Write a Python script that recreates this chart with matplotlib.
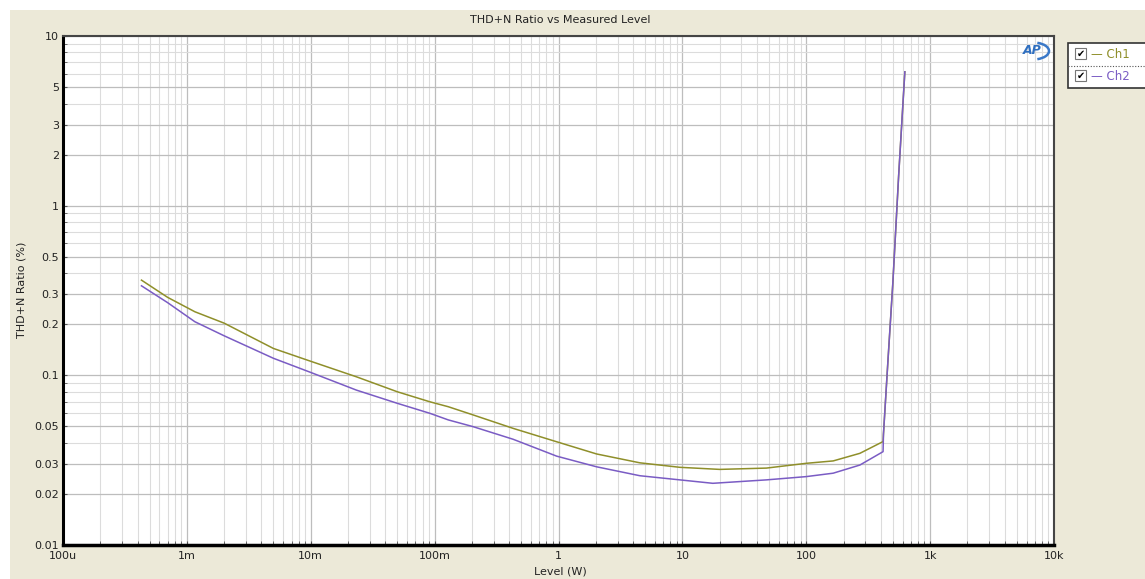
import matplotlib.pyplot as plt
from matplotlib.patches import Rectangle, Arc
from matplotlib.lines import Line2D
from matplotlib.ticker import FixedLocator, NullFormatter, LogLocator

# measured data (level in W, THD+N in %)
ch1_level = [0.00043, 0.0007, 0.00116, 0.002, 0.005, 0.01, 0.0234, 0.05, 0.0917,
             0.129, 0.205, 0.43, 0.966, 2.03, 4.54, 9.55, 20, 47.7, 100, 165, 271,
             417, 420, 456, 500, 557, 625]
ch1_thd = [0.364, 0.288, 0.237, 0.203, 0.144, 0.121, 0.098, 0.080, 0.0698,
           0.0653, 0.0584, 0.0487, 0.0406, 0.0344, 0.0305, 0.0287, 0.0279, 0.0284,
           0.0303, 0.0313, 0.0347, 0.0407, 0.045, 0.12, 0.35, 1.5, 6.15]

ch2_level = [0.00043, 0.0007, 0.00116, 0.002, 0.005, 0.01, 0.0234, 0.05, 0.0917,
             0.129, 0.205, 0.43, 0.966, 2.03, 4.54, 9.55, 17.6, 47.7, 100, 165, 271,
             417, 420, 456, 500, 557, 625]
ch2_thd = [0.337, 0.268, 0.207, 0.171, 0.126, 0.104, 0.0818, 0.0684, 0.0597,
           0.0546, 0.0498, 0.042, 0.0334, 0.0289, 0.0256, 0.0242, 0.0231, 0.0242,
           0.0253, 0.0265, 0.0296, 0.0355, 0.045, 0.12, 0.35, 1.5, 6.15]

x_ticks = [1e-4, 1e-3, 1e-2, 1e-1, 1, 10, 100, 1e3, 1e4]
x_labels = ['100u', '1m', '10m', '100m', '1', '10', '100', '1k', '10k']
y_ticks = [0.01, 0.02, 0.03, 0.05, 0.1, 0.2, 0.3, 0.5, 1, 2, 3, 5, 10]
y_labels = ['0.01', '0.02', '0.03', '0.05', '0.1', '0.2', '0.3', '0.5', '1', '2', '3', '5', '10']

ch1_colour = '#8f8f2a'
ch2_colour = '#7a5cc4'
beige = '#ece9d8'

plt.rcParams['font.family'] = ['DejaVu Sans']

fig = plt.figure(figsize=(11.45, 5.79), dpi=100, facecolor='white')
W, H = 1145, 579

# beige panel behind everything (thin white strip at top and left)
fig.patches.append(Rectangle((10 / W, 0), 1, (H - 10) / H, transform=fig.transFigure,
                             facecolor=beige, edgecolor='none', zorder=-10))

ax = fig.add_axes([63 / W, (H - 545) / H, (1054 - 63) / W, (545 - 36) / H])
ax.set_facecolor('white')
ax.set_xscale('log')
ax.set_yscale('log')
ax.set_xlim(1e-4, 1e4)
ax.set_ylim(0.01, 10)

ax.plot(ch1_level, ch1_thd, color=ch1_colour, lw=1.1, zorder=3)
ax.plot(ch2_level, ch2_thd, color=ch2_colour, lw=1.1, zorder=4)

ax.xaxis.set_major_locator(FixedLocator(x_ticks))
ax.set_xticklabels(x_labels)
ax.xaxis.set_minor_locator(LogLocator(base=10, subs=range(2, 10), numticks=20))
ax.xaxis.set_minor_formatter(NullFormatter())
ax.yaxis.set_major_locator(FixedLocator(y_ticks))
ax.set_yticklabels(y_labels)
ax.yaxis.set_minor_locator(LogLocator(base=10, subs=range(2, 10), numticks=20))
ax.yaxis.set_minor_formatter(NullFormatter())

ax.grid(which='major', color='#bdbdbd', lw=0.9)
ax.grid(which='minor', color='#dcdcdc', lw=0.8)
ax.set_axisbelow(True)

ax.tick_params(which='both', direction='in', length=3, color='#555555',
               labelsize=8, labelcolor='#222222')
ax.tick_params(axis='x', pad=4)
ax.tick_params(axis='y', pad=3)

ax.spines['left'].set_linewidth(2.2)
ax.spines['left'].set_color('black')
ax.spines['bottom'].set_linewidth(2.5)
ax.spines['bottom'].set_color('black')
ax.spines['top'].set_linewidth(1.5)
ax.spines['top'].set_color('#454545')
ax.spines['right'].set_linewidth(1.5)
ax.spines['right'].set_color('#454545')

fig.text(560 / W, 1 - 20 / H, 'THD+N Ratio vs Measured Level', ha='center', va='center',
         fontsize=8, color='#222222')
fig.text(560 / W, 1 - 572 / H, 'Level (W)', ha='center', va='center',
         fontsize=8, color='#222222')
fig.text(22 / W, 1 - 290 / H, 'THD+N Ratio (%)', ha='center', va='center',
         rotation=90, fontsize=8, color='#222222')

# AP logo
fig.patches.append(Arc((1033 / W, 1 - 51 / H), 32 / W, 17 / H, theta1=-75, theta2=75,
                       transform=fig.transFigure, edgecolor='#3a78c8', lw=1.8))
fig.text(1032 / W, 1 - 51 / H, 'AP', ha='center', va='center',
         fontsize=9, fontweight='bold', fontstyle='italic', color='#2f6fc0')

# legend box with check boxes
fig.patches.append(Rectangle((1068 / W, 1 - 88 / H), 90 / W, 45 / H, transform=fig.transFigure,
                             facecolor='white', edgecolor='#333333', lw=1.2))
fig.lines.append(Line2D([1068 / W, 1], [1 - 65.5 / H, 1 - 65.5 / H], transform=fig.transFigure,
                        color='#555555', lw=0.8, ls=(0, (1, 1.5))))
for row_y, name, colour in [(54, 'Ch1', ch1_colour), (76, 'Ch2', ch2_colour)]:
    fig.patches.append(Rectangle((1075 / W, 1 - (row_y + 5) / H), 11 / W, 11 / H,
                                 transform=fig.transFigure, facecolor='white',
                                 edgecolor='#777777', lw=0.8))
    fig.text(1080.5 / W, 1 - row_y / H, '\u2714', ha='center', va='center',
             fontsize=7, color='black')
    fig.text(1091 / W, 1 - row_y / H, '\u2014 ' + name, ha='left', va='center',
             fontsize=8.5, color=colour)

fig.savefig('out.png', dpi=100, facecolor=fig.get_facecolor())
